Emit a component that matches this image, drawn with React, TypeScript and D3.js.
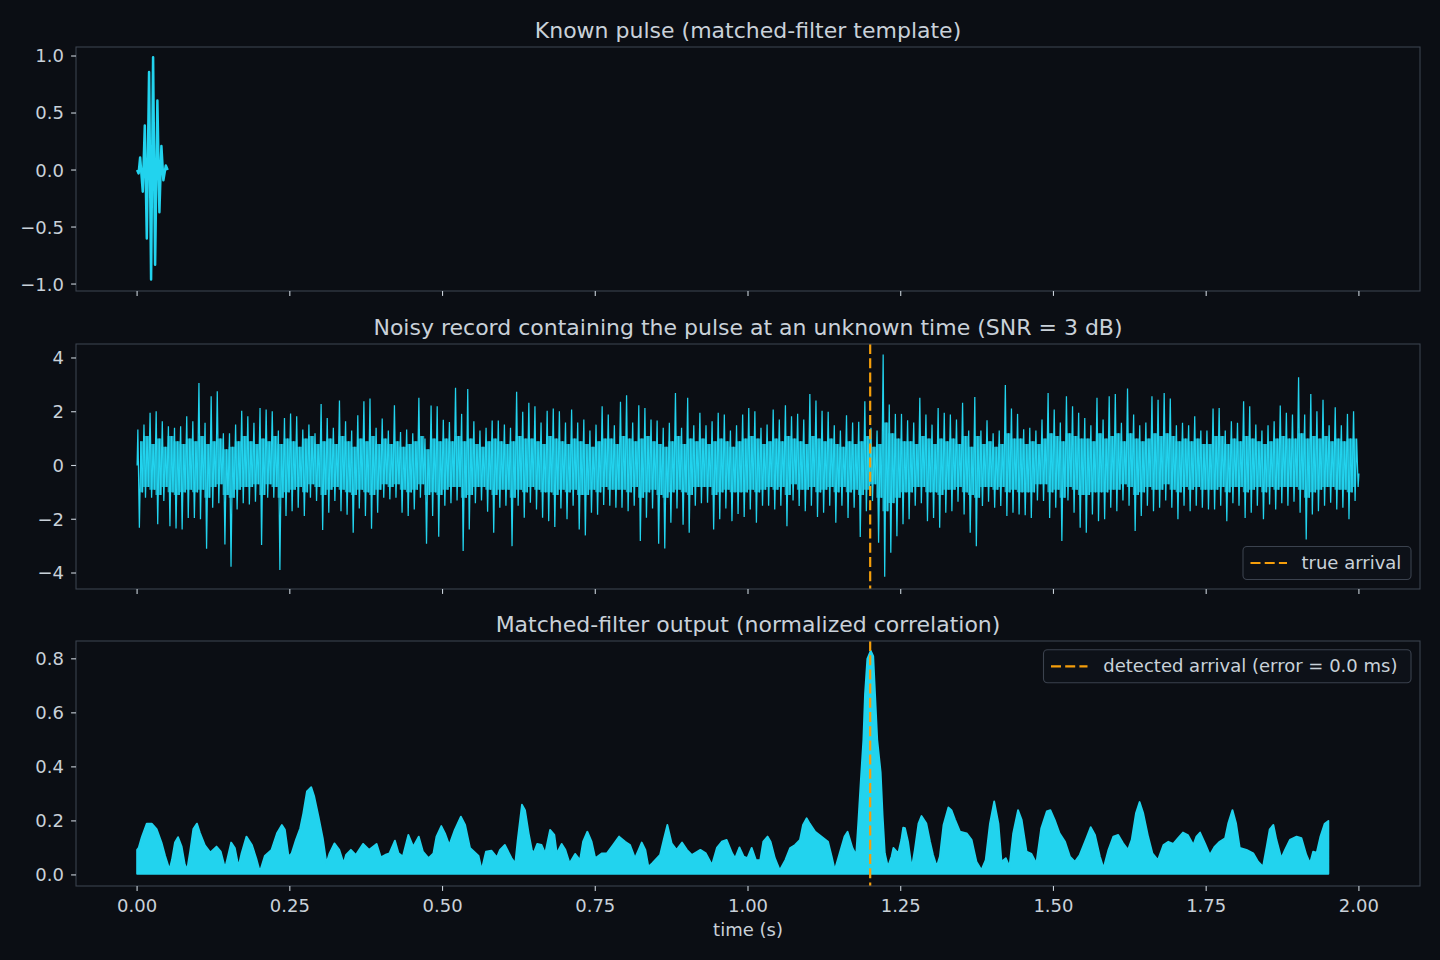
import React, { useEffect } from 'react';
import * as d3 from 'd3';

// ---------------- DATA ----------------
const pulseT = [0.0, 0.0025, 0.005, 0.0093, 0.0126, 0.0159, 0.0196, 0.0229, 0.0262, 0.0295, 0.0332, 0.0365, 0.0398, 0.043, 0.047, 0.05];
const pulseV = [0.0, -0.03, 0.11, -0.19, 0.39, -0.6, 0.86, -0.96, 0.99, -0.83, 0.61, -0.37, 0.21, -0.09, 0.04, 0.0];

// noisy record: per 10 ms bin, highest / lowest excursion and the inner (core) excursions
const recordBin = 0.01;
const recordStart = 0.0;
const recordEnd = -0.3;
const recordHi = [
  1.34, 1.52, 1.96, 2.02, 1.65, 1.46, 1.4, 1.46, 1.83, 1.65,
  3.07, 1.59, 2.58, 2.76, 1.2, 1.2, 1.52, 2.04, 1.83, 1.59,
  2.14, 2.08, 2.02, 1.3, 1.77, 1.93, 1.83, 1.34, 1.52, 1.2,
  2.29, 1.77, 1.4, 2.42, 1.65, 1.3, 1.87, 2.39, 2.49, 1.4,
  1.75, 1.3, 2.24, 1.25, 1.34, 1.2, 2.52, 1.0, 2.23, 2.2,
  1.7, 1.62, 2.89, 1.92, 2.85, 1.65, 1.3, 1.4, 1.67, 1.67,
  1.52, 1.4, 2.74, 2.0, 2.33, 2.2, 1.6, 2.04, 2.12, 2.02,
  1.6, 2.08, 1.6, 1.71, 1.3, 1.52, 2.2, 1.9, 1.5, 2.37,
  2.61, 1.6, 2.24, 2.14, 1.71, 1.67, 1.4, 1.59, 2.7, 1.4,
  2.52, 1.5, 1.96, 1.5, 1.65, 1.96, 1.9, 1.3, 1.5, 1.9,
  2.14, 2.02, 1.4, 1.52, 2.08, 1.71, 2.24, 1.83, 1.92, 1.71,
  2.66, 2.42, 2.04, 2.0, 1.5, 1.3, 1.87, 1.6, 1.63, 2.39,
  1.4, 1.3, 4.13, 2.27, 1.92, 1.92, 1.68, 1.6, 2.52, 1.9,
  1.52, 2.14, 1.96, 1.9, 1.71, 2.33, 1.3, 2.55, 1.3, 1.68,
  1.2, 1.3, 2.99, 2.12, 1.92, 1.35, 1.4, 1.3, 1.71, 2.7,
  2.08, 1.6, 2.58, 2.2, 1.96, 1.77, 1.5, 2.52, 1.71, 2.58,
  2.66, 1.59, 2.86, 1.9, 1.5, 1.6, 2.58, 2.45, 2.7, 2.49,
  1.5, 1.59, 1.5, 1.83, 1.3, 1.3, 2.12, 2.14, 1.3, 1.65,
  1.59, 2.39, 2.2, 1.52, 1.3, 1.5, 1.65, 2.23, 1.96, 1.9,
  3.28, 1.9, 2.66, 2.02, 2.45, 1.5, 2.17, 1.5, 1.92, 2.02,
];
const recordLo = [
  -2.32, -1.2, -1.2, -2.19, -1.32, -2.26, -2.34, -2.38, -1.95, -1.95,
  -2.0, -3.1, -1.57, -1.4, -2.94, -3.77, -1.64, -1.4, -1.45, -1.35,
  -2.96, -1.2, -1.2, -3.89, -1.88, -1.7, -1.57, -1.88, -1.2, -1.32,
  -2.4, -1.76, -1.32, -1.7, -1.83, -2.5, -1.6, -1.88, -2.35, -1.76,
  -1.2, -1.26, -1.2, -1.76, -1.88, -1.64, -1.2, -2.91, -1.88, -2.65,
  -1.5, -1.4, -1.3, -3.18, -2.38, -1.4, -1.3, -1.72, -2.5, -1.57,
  -1.5, -3.0, -1.5, -1.94, -1.39, -1.64, -1.94, -2.07, -2.29, -1.6,
  -2.0, -1.5, -2.38, -2.6, -1.76, -1.83, -1.47, -1.5, -1.57, -1.57,
  -1.7, -1.5, -2.81, -1.94, -1.6, -2.91, -3.09, -2.13, -1.6, -2.2,
  -2.5, -1.5, -1.4, -1.39, -2.38, -2.0, -1.6, -2.07, -1.8, -1.92,
  -1.64, -2.13, -1.5, -1.5, -1.64, -1.5, -2.26, -1.3, -1.51, -1.7,
  -1.5, -1.92, -1.76, -1.5, -2.13, -1.5, -1.95, -1.57, -2.66, -1.7,
  -1.32, -2.87, -4.14, -3.25, -2.63, -2.19, -2.0, -1.5, -1.4, -2.07,
  -1.95, -2.32, -1.76, -1.7, -1.35, -1.82, -2.5, -3.0, -1.51, -1.35,
  -1.57, -1.51, -1.88, -1.76, -1.82, -1.85, -1.95, -1.3, -1.32, -1.95,
  -1.57, -2.81, -1.3, -1.76, -2.32, -2.5, -1.82, -2.07, -2.0, -1.57,
  -1.7, -1.3, -1.5, -2.44, -1.88, -1.5, -1.7, -1.57, -1.3, -1.57,
  -2.0, -1.5, -1.7, -1.5, -1.57, -1.64, -1.64, -1.5, -2.07, -1.4,
  -1.5, -1.95, -1.76, -1.5, -2.0, -1.45, -1.64, -1.4, -1.5, -1.35,
  -1.76, -2.75, -1.82, -1.7, -1.5, -1.39, -1.64, -1.57, -2.0, -1.32,
];
const recordInHi = [
  0.9, 1.1, 0.8, 1.0, 0.7, 1.1, 0.9, 0.8, 1.0, 0.9,
  1.1, 0.8, 0.9, 1.0, 0.6, 0.7, 0.9, 1.1, 0.9, 0.8,
  1.0, 0.9, 1.1, 0.8, 1.0, 0.9, 0.7, 1.0, 1.1, 0.8,
  0.9, 1.0, 0.8, 1.1, 0.9, 0.7, 1.0, 0.9, 1.1, 0.8,
  1.0, 0.8, 0.9, 0.7, 0.8, 0.9, 1.1, 0.6, 1.0, 0.9,
  1.0, 0.9, 1.1, 0.9, 1.0, 0.8, 0.7, 0.9, 1.0, 0.9,
  0.8, 0.9, 1.1, 1.0, 1.0, 0.9, 0.8, 1.1, 1.0, 0.9,
  0.8, 1.0, 0.9, 0.8, 0.7, 0.9, 1.0, 1.0, 0.8, 1.1,
  1.0, 0.9, 1.0, 1.1, 0.9, 0.8, 0.7, 0.9, 1.1, 0.8,
  1.0, 0.9, 1.0, 0.8, 0.9, 1.0, 0.9, 0.7, 0.9, 1.0,
  1.1, 1.0, 0.8, 0.9, 1.0, 0.9, 1.1, 1.0, 0.9, 0.8,
  1.1, 1.0, 0.9, 1.0, 0.8, 0.7, 0.9, 0.8, 0.9, 1.1,
  0.7, 0.8, 1.6, 1.2, 1.0, 0.9, 0.9, 0.8, 1.1, 1.0,
  0.8, 1.0, 0.9, 1.0, 0.8, 1.1, 0.7, 1.1, 0.8, 0.9,
  0.7, 0.8, 1.2, 1.0, 1.0, 0.8, 0.9, 0.8, 1.0, 1.2,
  1.1, 0.9, 1.2, 1.1, 1.0, 1.0, 0.9, 1.2, 1.0, 1.1,
  1.2, 0.9, 1.2, 1.0, 0.9, 1.0, 1.2, 1.1, 1.2, 1.1,
  0.9, 1.0, 0.9, 1.0, 0.8, 0.8, 1.1, 1.1, 0.8, 1.0,
  0.9, 1.1, 1.0, 0.9, 0.8, 0.9, 1.0, 1.1, 1.0, 1.0,
  1.2, 1.0, 1.1, 1.0, 1.1, 0.9, 1.0, 0.9, 1.0, 1.0,
];
const recordInLo = [
  -1.0, -0.8, -0.9, -1.1, -0.8, -1.0, -1.1, -1.0, -0.9, -1.0,
  -0.9, -1.2, -0.8, -0.7, -1.1, -1.2, -0.9, -0.8, -0.8, -0.7,
  -1.1, -0.7, -0.8, -1.2, -1.0, -0.9, -0.8, -1.0, -0.7, -0.8,
  -1.1, -0.9, -0.8, -0.9, -1.0, -1.1, -0.9, -1.0, -1.1, -0.9,
  -0.7, -0.8, -0.7, -0.9, -1.0, -0.9, -0.7, -1.1, -1.0, -1.1,
  -0.9, -0.8, -0.8, -1.2, -1.1, -0.8, -0.8, -0.9, -1.1, -0.9,
  -0.9, -1.2, -0.9, -1.0, -0.8, -0.9, -1.0, -1.0, -1.1, -0.9,
  -1.0, -0.9, -1.1, -1.1, -0.9, -1.0, -0.8, -0.9, -0.9, -0.9,
  -1.0, -0.8, -1.2, -1.0, -0.9, -1.1, -1.2, -1.0, -0.9, -1.0,
  -1.1, -0.8, -0.8, -0.8, -1.1, -1.0, -0.9, -1.0, -1.0, -1.0,
  -0.9, -1.0, -0.9, -0.8, -0.9, -0.8, -1.1, -0.7, -0.9, -0.9,
  -0.8, -1.0, -0.9, -0.8, -1.0, -0.8, -1.0, -0.9, -1.1, -0.9,
  -0.7, -1.2, -1.7, -1.4, -1.2, -1.0, -1.0, -0.8, -0.8, -1.0,
  -1.0, -1.1, -0.9, -0.9, -0.8, -1.0, -1.1, -1.2, -0.8, -0.8,
  -0.9, -0.8, -1.0, -0.9, -1.0, -1.0, -1.0, -0.7, -0.7, -1.0,
  -0.9, -1.2, -0.8, -0.9, -1.1, -1.1, -1.0, -1.0, -1.0, -0.9,
  -0.9, -0.7, -0.8, -1.1, -1.0, -0.8, -0.9, -0.9, -0.7, -0.9,
  -1.0, -0.8, -0.9, -0.8, -0.9, -0.9, -0.9, -0.8, -1.0, -0.8,
  -0.8, -1.0, -0.9, -0.8, -1.0, -0.8, -0.9, -0.8, -0.8, -0.8,
  -0.9, -1.2, -1.0, -0.9, -0.8, -0.8, -0.9, -0.9, -1.0, -0.8,
];

// matched-filter output envelope: key points (time s, value)
const mfT = [
  0.0, 0.0025, 0.0077, 0.0158, 0.024, 0.032, 0.04, 0.046, 0.053, 0.057, 0.062, 0.067, 0.073, 0.078, 0.082, 0.087, 0.092, 0.098, 0.103, 0.111,
  0.12, 0.13, 0.137, 0.144, 0.148, 0.154, 0.16, 0.166, 0.171, 0.179, 0.188, 0.195, 0.201, 0.209, 0.22, 0.229, 0.237, 0.242, 0.248, 0.253,
  0.26, 0.267, 0.272, 0.278, 0.285, 0.29, 0.297, 0.304, 0.31, 0.315, 0.323, 0.331, 0.338, 0.342, 0.35, 0.358, 0.37, 0.38, 0.392, 0.399,
  0.406, 0.413, 0.422, 0.428, 0.435, 0.444, 0.452, 0.461, 0.468, 0.477, 0.485, 0.49, 0.498, 0.504, 0.511, 0.52, 0.53, 0.537, 0.545, 0.559,
  0.564, 0.571, 0.58, 0.589, 0.594, 0.602, 0.613, 0.619, 0.623, 0.63, 0.635, 0.641, 0.646, 0.649, 0.655, 0.662, 0.668, 0.676, 0.683, 0.687,
  0.695, 0.701, 0.708, 0.717, 0.725, 0.73, 0.737, 0.744, 0.75, 0.761, 0.769, 0.779, 0.789, 0.799, 0.807, 0.815, 0.821, 0.826, 0.832, 0.837,
  0.843, 0.856, 0.862, 0.868, 0.875, 0.883, 0.892, 0.9, 0.908, 0.922, 0.931, 0.941, 0.949, 0.957, 0.965, 0.974, 0.979, 0.986, 0.993, 0.999,
  1.006, 1.013, 1.02, 1.025, 1.032, 1.037, 1.044, 1.052, 1.061, 1.069, 1.077, 1.085, 1.09, 1.096, 1.101, 1.11, 1.12, 1.131, 1.137, 1.142,
  1.15, 1.158, 1.163, 1.171, 1.177, 1.1806, 1.1844, 1.1888, 1.1915, 1.1953, 1.2008, 1.205, 1.208, 1.2116, 1.2172, 1.2204, 1.224, 1.229, 1.235, 1.238,
  1.246, 1.251, 1.254, 1.257, 1.262, 1.268, 1.273, 1.279, 1.284, 1.292, 1.298, 1.303, 1.309, 1.314, 1.32, 1.328, 1.333, 1.339, 1.347, 1.358,
  1.366, 1.374, 1.382, 1.389, 1.396, 1.403, 1.41, 1.415, 1.422, 1.428, 1.434, 1.442, 1.448, 1.456, 1.464, 1.472, 1.48, 1.489, 1.495, 1.502,
  1.51, 1.519, 1.527, 1.535, 1.543, 1.554, 1.561, 1.568, 1.576, 1.582, 1.59, 1.598, 1.606, 1.614, 1.622, 1.628, 1.635, 1.641, 1.647, 1.655,
  1.662, 1.671, 1.68, 1.688, 1.696, 1.704, 1.712, 1.72, 1.729, 1.734, 1.74, 1.748, 1.756, 1.764, 1.772, 1.781, 1.786, 1.793, 1.799, 1.805,
  1.816, 1.827, 1.835, 1.843, 1.849, 1.854, 1.86, 1.865, 1.873, 1.879, 1.887, 1.898, 1.906, 1.914, 1.92, 1.925, 1.931, 1.937, 1.944, 1.95,
];
const mfV = [
  0.093, 0.1, 0.14, 0.19, 0.19, 0.17, 0.12, 0.07, 0.02, 0.055, 0.12, 0.14, 0.105, 0.04, 0.02, 0.09, 0.17, 0.19, 0.155, 0.11,
  0.083, 0.105, 0.086, 0.025, 0.062, 0.12, 0.1, 0.03, 0.08, 0.142, 0.111, 0.062, 0.012, 0.07, 0.093, 0.154, 0.185, 0.167, 0.068, 0.08,
  0.13, 0.173, 0.228, 0.309, 0.325, 0.29, 0.216, 0.136, 0.043, 0.08, 0.117, 0.093, 0.043, 0.074, 0.093, 0.074, 0.115, 0.093, 0.115, 0.065,
  0.074, 0.08, 0.127, 0.08, 0.068, 0.148, 0.105, 0.142, 0.086, 0.062, 0.08, 0.142, 0.181, 0.154, 0.111, 0.167, 0.216, 0.185, 0.1, 0.07,
  0.018, 0.086, 0.09, 0.065, 0.093, 0.111, 0.062, 0.043, 0.13, 0.26, 0.24, 0.154, 0.095, 0.08, 0.115, 0.111, 0.08, 0.167, 0.148, 0.08,
  0.115, 0.093, 0.043, 0.078, 0.055, 0.123, 0.16, 0.123, 0.062, 0.08, 0.08, 0.111, 0.142, 0.123, 0.111, 0.062, 0.093, 0.12, 0.093, 0.031,
  0.043, 0.074, 0.13, 0.185, 0.117, 0.093, 0.12, 0.093, 0.074, 0.093, 0.08, 0.037, 0.1, 0.123, 0.13, 0.08, 0.062, 0.102, 0.068, 0.062,
  0.1, 0.055, 0.055, 0.123, 0.142, 0.123, 0.062, 0.018, 0.055, 0.1, 0.111, 0.13, 0.185, 0.21, 0.19, 0.16, 0.142, 0.123, 0.068, 0.018,
  0.08, 0.142, 0.16, 0.1, 0.074, 0.197, 0.34, 0.5, 0.67, 0.8, 0.83, 0.81, 0.67, 0.5, 0.38, 0.22, 0.08, 0.03, 0.068, 0.1,
  0.08, 0.13, 0.175, 0.173, 0.123, 0.025, 0.093, 0.19, 0.218, 0.19, 0.123, 0.074, 0.031, 0.068, 0.185, 0.25, 0.24, 0.204, 0.16, 0.154,
  0.13, 0.049, 0.018, 0.055, 0.19, 0.272, 0.19, 0.049, 0.062, 0.031, 0.154, 0.24, 0.204, 0.086, 0.078, 0.043, 0.173, 0.235, 0.24, 0.204,
  0.154, 0.123, 0.068, 0.049, 0.074, 0.136, 0.177, 0.148, 0.068, 0.025, 0.093, 0.142, 0.148, 0.117, 0.093, 0.13, 0.228, 0.27, 0.228, 0.142,
  0.08, 0.055, 0.111, 0.123, 0.115, 0.136, 0.157, 0.148, 0.111, 0.142, 0.157, 0.117, 0.074, 0.105, 0.123, 0.136, 0.19, 0.24, 0.19, 0.1,
  0.093, 0.08, 0.049, 0.031, 0.105, 0.169, 0.185, 0.13, 0.062, 0.093, 0.13, 0.142, 0.136, 0.074, 0.043, 0.086, 0.083, 0.142, 0.19, 0.2,
];
const mfFloor = 0.004;

const xTicks = [0, 0.25, 0.5, 0.75, 1.0, 1.25, 1.5, 1.75, 2.0];
const yTicksTop = [-1.0, -0.5, 0.0, 0.5, 1.0];
const yTicksMid = [-4, -2, 0, 2, 4];
const yTicksBot = [0.0, 0.2, 0.4, 0.6, 0.8];
const trueArrival = 1.2;
const detectedArrival = 1.2;
const errorMs = 0.0;

const titles = [
  'Known pulse (matched-filter template)',
  'Noisy record containing the pulse at an unknown time (SNR = 3 dB)',
  'Matched-filter output (normalized correlation)',
];

// ---------------- STYLE ----------------
const BG = '#0b0e14';
const SPINE = '#3b424e';
const TEXT = '#c9d1d9';
const CYAN = '#22d3ee';
const ORANGE = '#f59e0b';
const FONT = '"DejaVu Sans", Verdana, sans-serif';
const DASH = '10 4.2';

const W = 1440;
const H = 960;
const L = 76;
const R = 1420;
const panels = [
  { top: 47, bottom: 291, domain: [-1.061, 1.079], ticks: yTicksTop, fmt: (v: number) => v.toFixed(1) },
  { top: 344, bottom: 589, domain: [-4.595, 4.52], ticks: yTicksMid, fmt: (v: number) => v.toFixed(0) },
  { top: 641, bottom: 886, domain: [-0.041, 0.866], ticks: yTicksBot, fmt: (v: number) => v.toFixed(1) },
];
const minus = (s: string) => s.replace('-', '\u2212');

export default function App() {
  useEffect(() => {
    document.body.style.margin = '0';
    document.body.style.background = BG;
  }, []);

  const x = d3.scaleLinear().domain([-0.1, 2.1]).range([L, R]);
  const ys = panels.map((p) => d3.scaleLinear().domain(p.domain).range([p.bottom, p.top]));

  // top: pulse
  const pulseLine = d3.line<number>().x((_, i) => x(pulseT[i])).y((v) => ys[0](v))(pulseV) || '';

  // middle: record polyline through the per-bin excursions
  const recPts: [number, number][] = [[0, recordStart]];
  recordHi.forEach((hi, i) => {
    const t0 = i * recordBin;
    recPts.push([t0 + 0.125 * recordBin, hi]);
    recPts.push([t0 + 0.375 * recordBin, recordLo[i]]);
    recPts.push([t0 + 0.625 * recordBin, recordInHi[i]]);
    recPts.push([t0 + 0.875 * recordBin, recordInLo[i]]);
  });
  recPts.push([recordHi.length * recordBin, recordEnd]);
  const recLine = d3.line<[number, number]>().x((d) => x(d[0])).y((d) => ys[1](d[1]))(recPts) || '';
  // dense core of the trace, bounded by the inner excursions of each bin
  const coreArea = d3.area<number>()
    .x((_, i) => x((i + 0.5) * recordBin))
    .y0((_, i) => ys[1](recordInLo[i]))
    .y1((v) => ys[1](v))
    .curve(d3.curveStep)(recordInHi) || '';

  // bottom: matched filter area
  const mfArea = d3.area<number>()
    .x((_, i) => x(mfT[i]))
    .y0(() => ys[2](mfFloor))
    .y1((v) => ys[2](v))(mfV) || '';

  const fs = 18;
  return (
    <svg width={W} height={H} style={{ position: 'absolute', left: 0, top: 0, background: BG }} fontFamily={FONT}>
      <rect x={0} y={0} width={W} height={H} fill={BG} />
      <defs>
        {panels.map((p, i) => (
          <clipPath id={`clip${i}`} key={i}>
            <rect x={L} y={p.top} width={R - L} height={p.bottom - p.top} />
          </clipPath>
        ))}
      </defs>

      {/* data */}
      <g clipPath="url(#clip0)">
        <path d={pulseLine} fill="none" stroke={CYAN} strokeWidth={2.5} strokeLinejoin="round" />
      </g>
      <g clipPath="url(#clip1)">
        <path d={coreArea} fill={CYAN} fillOpacity={0.72} />
        <path d={recLine} fill="none" stroke={CYAN} strokeWidth={1.25} />
        <line x1={x(trueArrival)} x2={x(trueArrival)} y1={panels[1].top} y2={panels[1].bottom}
          stroke={ORANGE} strokeWidth={2.2} strokeDasharray={DASH} />
      </g>
      <g clipPath="url(#clip2)">
        <path d={mfArea} fill={CYAN} stroke={CYAN} strokeWidth={1.8} strokeLinejoin="round" />
        <line x1={x(detectedArrival)} x2={x(detectedArrival)} y1={panels[2].top} y2={panels[2].bottom}
          stroke={ORANGE} strokeWidth={2.2} strokeDasharray={DASH} />
      </g>

      {/* axes */}
      {panels.map((p, i) => (
        <g key={i}>
          <rect x={L} y={p.top} width={R - L} height={p.bottom - p.top} fill="none" stroke={SPINE} strokeWidth={1.1} />
          {xTicks.map((t) => (
            <line key={t} x1={x(t)} x2={x(t)} y1={p.bottom} y2={p.bottom + 4.9} stroke={TEXT} strokeWidth={1.1} />
          ))}
          {p.ticks.map((t) => (
            <g key={t}>
              <line x1={L - 4.9} x2={L} y1={ys[i](t)} y2={ys[i](t)} stroke={TEXT} strokeWidth={1.1} />
              <text x={L - 12} y={ys[i](t)} dy="0.36em" textAnchor="end" fontSize={fs} fill={TEXT}>
                {minus(p.fmt(t))}
              </text>
            </g>
          ))}
          <text x={(L + R) / 2} y={p.top - 9.5} textAnchor="middle" fontSize={22} fill={TEXT}>
            {titles[i]}
          </text>
        </g>
      ))}
      {xTicks.map((t) => (
        <text key={t} x={x(t)} y={912} textAnchor="middle" fontSize={fs} fill={TEXT}>
          {t.toFixed(2)}
        </text>
      ))}
      <text x={(L + R) / 2} y={936} textAnchor="middle" fontSize={fs} fill={TEXT}>time (s)</text>

      {/* legends */}
      <g>
        <rect x={1243} y={546.5} width={168} height={33} rx={4} fill="#0d1118" stroke={SPINE} strokeWidth={1.1} />
        <line x1={1250.5} x2={1287} y1={563} y2={563} stroke={ORANGE} strokeWidth={2.2} strokeDasharray={DASH} />
        <text x={1301.5} y={568.7} fontSize={fs} fill={TEXT}>true arrival</text>
      </g>
      <g>
        <rect x={1043.5} y={649.8} width={367.5} height={33} rx={4} fill="#0d1118" stroke={SPINE} strokeWidth={1.1} />
        <line x1={1051} x2={1087.5} y1={666.3} y2={666.3} stroke={ORANGE} strokeWidth={2.2} strokeDasharray={DASH} />
        <text x={1103.3} y={672} fontSize={fs} fill={TEXT}>{`detected arrival (error = ${errorMs.toFixed(1)} ms)`}</text>
      </g>
    </svg>
  );
}
